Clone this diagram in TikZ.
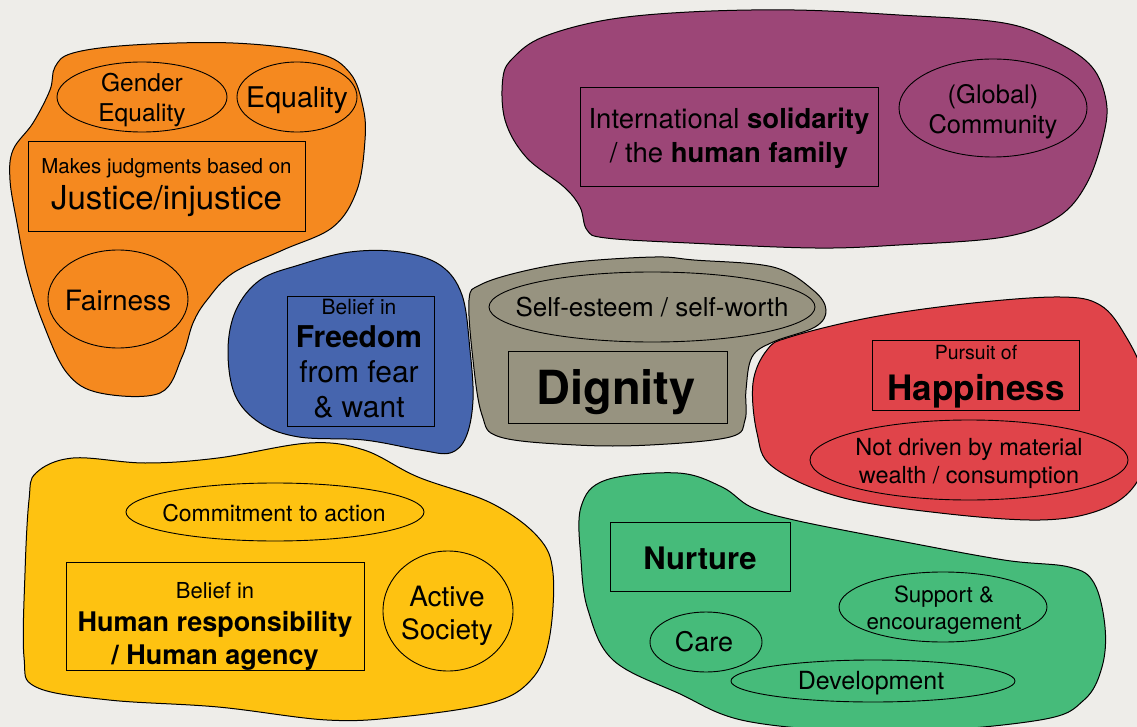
\documentclass[tikz,border=0pt]{standalone}
\usepackage{fontspec}
\setmainfont{TeX Gyre Heros}
\usetikzlibrary{shapes.geometric}

\definecolor{paper}{HTML}{EEEDE9}
\definecolor{orangeblob}{HTML}{F5891F}
\definecolor{purpleblob}{HTML}{9C4677}
\definecolor{blueblob}{HTML}{4665AE}
\definecolor{greyblob}{HTML}{979380}
\definecolor{redblob}{HTML}{E0444A}
\definecolor{yellowblob}{HTML}{FEC211}
\definecolor{greenblob}{HTML}{46BB7A}

\newcommand{\fnt}[2]{\fontsize{#1}{#2}\selectfont}

\begin{document}
\begin{tikzpicture}[
    x=1pt, y=-1pt,
    blob/.style={draw=black, line width=1pt},
    box/.style={rectangle, draw, line width=0.9pt, inner sep=0pt},
    oval/.style={ellipse, draw, line width=0.9pt, inner sep=0pt},
    txt/.style={inner sep=0pt, align=center}
]
    \useasboundingbox (0,0) rectangle (1137,727);
    \fill[paper] (0,0) rectangle (1137,727);
    \clip (0,0) rectangle (1137,727);

    \draw[blob, fill=orangeblob] plot[smooth cycle, tension=0.6] coordinates {
        (55,67) (73,53) (133,45) (233,43) (317,53) (350,73) (363,107) (365,140)
        (357,190) (333,227) (283,250) (233,273) (207,300) (193,323) (182,357)
        (160,393) (100,393) (67,373) (43,323) (27,273) (17,223) (10,180)
        (13,150) (33,123) (50,90)};
    \draw[blob, fill=purpleblob] plot[smooth cycle, tension=0.6] coordinates {
        (514,57) (543,37) (606,20) (689,12) (794,10) (899,15) (1004,23)
        (1058,43) (1092,67) (1106,100) (1104,133) (1087,183) (1058,217)
        (1004,237) (899,245) (815,248) (689,243) (606,238) (587,230) (580,207)
        (564,187) (526,157) (505,120) (503,77)};
    \draw[blob, fill=blueblob] plot[smooth cycle, tension=0.6] coordinates {
        (228,350) (236,310) (260,280) (299,265) (350,252) (400,252) (440,265)
        (462,295) (470,350) (473,400) (466,437) (450,453) (420,450) (364,440)
        (299,437) (260,423) (235,395)};
    \draw[blob, fill=greyblob] plot[smooth cycle, tension=0.6] coordinates {
        (469,300) (480,285) (520,272) (576,262) (655,257) (694,260) (773,267)
        (813,290) (826,310) (815,327) (773,342) (752,357) (746,390) (745,420)
        (730,437) (650,445) (576,445) (500,437) (482,415) (473,360)};
    \draw[blob, fill=redblob] plot[smooth cycle, tension=0.6] coordinates {
        (767,350) (790,337) (873,317) (973,303) (1060,297) (1100,305)
        (1125,335) (1145,380) (1150,440) (1135,485) (1100,510) (1040,520)
        (940,513) (840,497) (773,467) (757,433) (753,383)};
    \draw[blob, fill=yellowblob] plot[smooth cycle, tension=0.6] coordinates {
        (29,500) (36,473) (73,458) (145,463) (218,458) (309,443) (364,450)
        (418,477) (491,503) (538,537) (553,573) (549,640) (531,680) (491,703)
        (400,717) (327,720) (218,707) (109,700) (36,687) (24,657) (25,573)};
    \draw[blob, fill=greenblob] plot[smooth cycle, tension=0.6] coordinates {
        (581,507) (606,480) (678,473) (722,487) (751,507) (794,520) (895,540)
        (1004,560) (1069,567) (1094,583) (1105,627) (1102,667) (1084,700)
        (1040,720) (895,732) (751,722) (678,693) (613,660) (588,610) (581,560)};

    \node[oval, minimum width=170, minimum height=70] (gender) at (142,97) {};
    \node[txt, font=\fnt{24.5}{30}] (gendertxt) at (142,100) {Gender\\Equality};
    \node[oval, minimum width=120, minimum height=70] (equality) at (297,97) {};
    \node[txt, font=\fnt{28.5}{34}] (equalitytxt) at (297,100) {Equality};
    \node[box, minimum width=277, minimum height=90] (justice) at (166.5,186) {};
    \node[txt, font=\fnt{33}{36}] (justicetxt) at (166.5,188) {{\fnt{20.5}{24}Makes judgments based on}\\Justice/injustice};
    \node[oval, minimum width=140, minimum height=98] (fairness) at (118,299) {};
    \node[txt, font=\fnt{28}{34}] (fairnesstxt) at (118,301) {Fairness};

    \node[box, minimum width=298, minimum height=99] (solidarity) at (729,136.5) {};
    \node[txt, font=\fnt{27.5}{34}] (solidaritytxt) at (729,138.5) {International \textbf{solidarity}\\/ the \textbf{human family}};
    \node[oval, minimum width=188, minimum height=98] (global) at (993,108) {};
    \node[txt, font=\fnt{25.5}{30}] (globaltxt) at (993,111.5) {(Global)\\Community};

    \node[box, minimum width=147, minimum height=130] (freedom) at (360.5,361) {};
    \node[txt, font=\fnt{30}{35}] (freedomtxt) at (359,359) {{\fnt{21}{25}Belief in}\\[-2pt]\textbf{Freedom}\\from fear\\\& want};

    \node[oval, minimum width=326, minimum height=70] (selfworth) at (652,307) {};
    \node[txt, font=\fnt{26}{31}] (selfworthtxt) at (652,307) {Self-esteem / self-worth};
    \node[box, minimum width=219, minimum height=72] (dignity) at (617.5,387) {};
    \node[txt, font=\fnt{47}{56}\bfseries] (dignitytxt) at (616,392) {Dignity};

    \node[box, minimum width=207, minimum height=70] (happiness) at (975.5,375) {};
    \node[txt, font=\fnt{35}{41}] (happinesstxt) at (976,377) {{\fnt{19.5}{23}Pursuit of}\\\textbf{Happiness}};
    \node[oval, minimum width=318, minimum height=80] (material) at (969,460) {};
    \node[txt, font=\fnt{23.5}{28}] (materialtxt) at (969,463) {Not driven by material\\wealth / consumption};

    \node[oval, minimum width=298, minimum height=58] (commitment) at (275,512) {};
    \node[txt, font=\fnt{23}{28}] (commitmenttxt) at (274,513) {Commitment to action};
    \node[box, minimum width=298, minimum height=108] (responsibility) at (215,616) {};
    \node[txt, font=\fnt{27}{33}] (responsibilitytxt) at (215,626) {{\fnt{22}{26}Belief in}\\\textbf{Human responsibility}\\\textbf{/ Human agency}};
    \node[oval, minimum width=130, minimum height=120] (active) at (448,611) {};
    \node[txt, font=\fnt{28}{33}] (activetxt) at (447,616) {Active\\Society};

    \node[box, minimum width=180, minimum height=69] (nurture) at (700,556.5) {};
    \node[txt, font=\fnt{31}{37}\bfseries] (nurturetxt) at (700,558.5) {Nurture};
    \node[oval, minimum width=208, minimum height=70] (support) at (943,607) {};
    \node[txt, font=\fnt{22.3}{27}] (supporttxt) at (944,610) {Support \&\\encouragement};
    \node[oval, minimum width=112, minimum height=60] (care) at (706,642) {};
    \node[txt, font=\fnt{27}{32}] (caretxt) at (704,642) {Care};
    \node[oval, minimum width=284, minimum height=42] (development) at (873,681) {};
    \node[txt, font=\fnt{25}{30}] (developmenttxt) at (871,683) {Development};
\end{tikzpicture}
\end{document}
